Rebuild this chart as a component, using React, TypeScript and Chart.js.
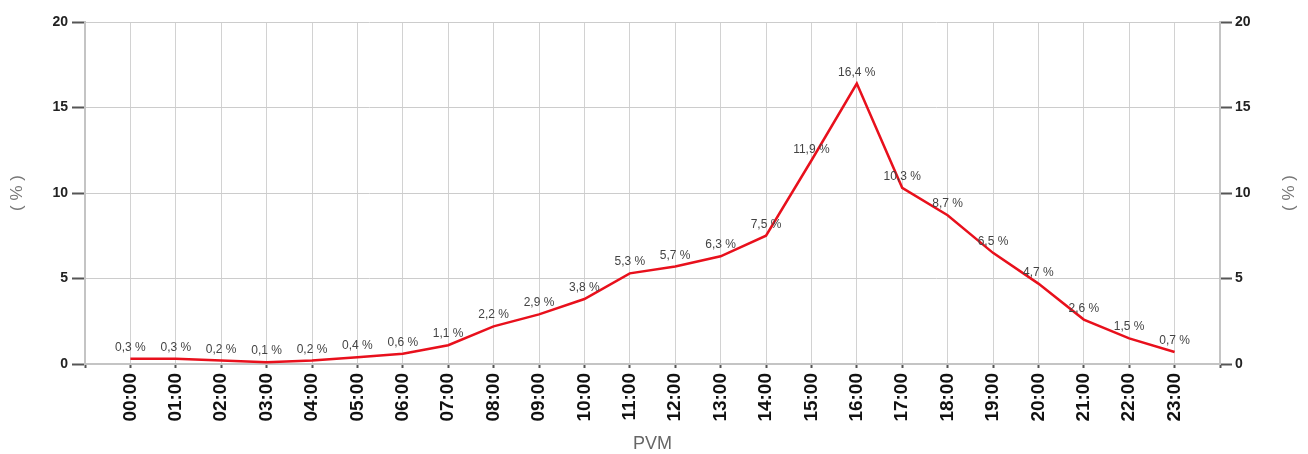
import React, { useEffect, useRef } from "react";
import { Chart, registerables } from "chart.js";

Chart.register(...registerables);

const hours = [
  "00:00", "01:00", "02:00", "03:00", "04:00", "05:00", "06:00", "07:00",
  "08:00", "09:00", "10:00", "11:00", "12:00", "13:00", "14:00", "15:00",
  "16:00", "17:00", "18:00", "19:00", "20:00", "21:00", "22:00", "23:00",
];
const shares = [
  0.3, 0.3, 0.2, 0.1, 0.2, 0.4, 0.6, 1.1, 2.2, 2.9, 3.8, 5.3,
  5.7, 6.3, 7.5, 11.9, 16.4, 10.3, 8.7, 6.5, 4.7, 2.6, 1.5, 0.7,
];
const yTickValues = [0, 5, 10, 15, 20];
const xTitle = "PVM";
const yTitle = "( % )";

const FONT = "'Liberation Sans', Arial, sans-serif";

const labelPlugin = {
  id: "pointLabels",
  afterDatasetsDraw(chart: any) {
    const ctx = chart.ctx;
    const meta = chart.getDatasetMeta(0);
    ctx.save();
    ctx.font = `12px ${FONT}`;
    ctx.fillStyle = "#444";
    ctx.textAlign = "center";
    ctx.textBaseline = "alphabetic";
    meta.data.forEach((pt: any, i: number) => {
      const txt = shares[i].toFixed(1).replace(".", ",") + " %";
      ctx.fillText(txt, pt.x, pt.y - 8);
    });
    ctx.restore();
  },
  afterDraw(chart: any) {
    const ctx = chart.ctx;
    const area = chart.chartArea;
    const midY = (area.top + area.bottom) / 2;
    ctx.save();
    ctx.fillStyle = "#666";
    ctx.font = `18px ${FONT}`;
    ctx.textAlign = "center";
    ctx.textBaseline = "middle";
    ctx.fillText(xTitle, (area.left + area.right) / 2, 444);
    ctx.font = `17px ${FONT}`;
    ctx.fillStyle = "#777";
    ctx.save();
    ctx.translate(17, midY);
    ctx.rotate(-Math.PI / 2);
    ctx.fillText(yTitle, 0, 0);
    ctx.restore();
    ctx.save();
    ctx.translate(1289, midY);
    ctx.rotate(-Math.PI / 2);
    ctx.fillText(yTitle, 0, 0);
    ctx.restore();
    ctx.restore();
  },
};

export default function App() {
  const ref = useRef<HTMLCanvasElement | null>(null);
  useEffect(() => {
    if (!ref.current) return;
    const yTicksCfg = {
      autoSkip: false,
      color: "#222",
      font: { family: FONT, size: 14, weight: "bold" as const },
    };
    const chart = new Chart(ref.current, {
      type: "line",
      data: {
        datasets: [
          {
            data: shares.map((v, i) => ({ x: i, y: v })),
            borderColor: "#e8101c",
            borderWidth: 2.5,
            pointRadius: 0,
            tension: 0,
            fill: false,
          },
        ],
      },
      options: {
        animation: false,
        responsive: false,
        layout: { padding: { top: 22, left: 0, right: 0, bottom: 0 } },
        plugins: { legend: { display: false }, tooltip: { enabled: false } },
        scales: {
          x: {
            type: "linear",
            min: -1,
            max: 24,
            afterBuildTicks: (axis: any) => {
              const t: any[] = [];
              for (let i = -1; i <= 24; i++) t.push({ value: i });
              axis.ticks = t;
            },
            afterFit: (axis: any) => {
              axis.height = 90;
            },
            grid: {
              color: "#d2d2d2",
              lineWidth: 1,
              tickLength: 4,
              tickColor: "#555",
              tickWidth: 2,
            },
            border: { color: "#c4c4c4", width: 2 },
            ticks: {
              autoSkip: false,
              maxRotation: 90,
              minRotation: 90,
              padding: 5,
              color: "#111",
              font: { family: FONT, size: 19, weight: "bold" as const },
              callback: (v: any) => {
                const i = Number(v);
                return i >= 0 && i < hours.length ? hours[i] : "";
              },
            },
          },
          y: {
            position: "left",
            min: 0,
            max: 20,
            afterBuildTicks: (axis: any) => {
              axis.ticks = yTickValues.map((v) => ({ value: v }));
            },
            afterFit: (axis: any) => {
              axis.width = 85;
            },
            grid: { color: "#cccccc", lineWidth: 1, tickLength: 13, tickColor: "#555", tickWidth: 2 },
            border: { color: "#c4c4c4", width: 2 },
            ticks: { ...yTicksCfg, padding: 4 },
          },
          y2: {
            position: "right",
            min: 0,
            max: 20,
            afterBuildTicks: (axis: any) => {
              axis.ticks = yTickValues.map((v) => ({ value: v }));
            },
            afterFit: (axis: any) => {
              axis.width = 88;
            },
            grid: { drawOnChartArea: false, tickLength: 12, tickColor: "#555", tickWidth: 2 },
            border: { color: "#c4c4c4", width: 2 },
            ticks: { ...yTicksCfg, padding: 3 },
          },
        },
      },
      plugins: [labelPlugin],
    } as any);
    return () => chart.destroy();
  }, []);
  return (
    <div style={{ position: "fixed", left: 0, top: 0, width: 1308, height: 454, background: "#fff" }}>
      <canvas ref={ref} width={1308} height={454} />
    </div>
  );
}
